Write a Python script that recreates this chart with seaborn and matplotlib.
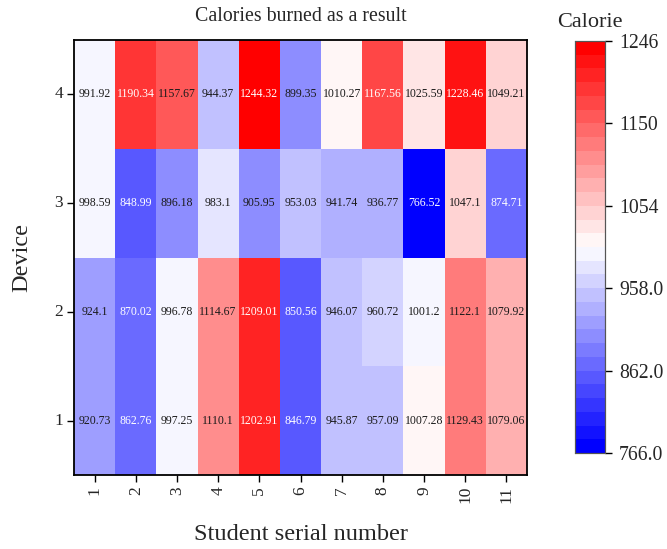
import numpy as np
import pandas as pd
import matplotlib
matplotlib.use("Agg")
import matplotlib.pyplot as plt
import seaborn as sns

# Calories burned per device (rows) and student (columns)
students = [1, 2, 3, 4, 5, 6, 7, 8, 9, 10, 11]
devices = [4, 3, 2, 1]
device4 = [991.92, 1190.34, 1157.67, 944.37, 1244.32, 899.35, 1010.27, 1167.56, 1025.59, 1228.46, 1049.21]
device3 = [998.59, 848.99, 896.18, 983.1, 905.95, 953.03, 941.74, 936.77, 766.52, 1047.1, 874.71]
device2 = [924.1, 870.02, 996.78, 1114.67, 1209.01, 850.56, 946.07, 960.72, 1001.2, 1122.1, 1079.92]
device1 = [920.73, 862.76, 997.25, 1110.1, 1202.91, 846.79, 945.87, 957.09, 1007.28, 1129.43, 1079.06]

cbar_ticks = [766.0, 862.0, 958.0, 1054.0, 1150.0, 1246.0]
cbar_ticklabels = ["766.0", "862.0", "958.0", "1054", "1150", "1246"]
vmin, vmax = 766.0, 1246.0

sns.set_theme(style="white")
plt.rcParams["font.family"] = ["Liberation Serif", "DejaVu Serif"]

df = pd.DataFrame([device4, device3, device2, device1], index=devices, columns=students)

cmap = matplotlib.colormaps["bwr"].resampled(30)

fig = plt.figure(figsize=(6.67, 5.49), dpi=100)
ax = fig.add_axes([74 / 667, 1 - 475 / 549, (527 - 74) / 667, (475 - 40) / 549])
cax = fig.add_axes([575 / 667, 1 - 453 / 549, 30 / 667, (453 - 41) / 549])

sns.heatmap(df, ax=ax, cbar_ax=cax, cmap=cmap, vmin=vmin, vmax=vmax,
            annot=False, linewidths=0, square=False)

# value labels: light text on the strongest colours, dark text elsewhere
for i, dev in enumerate(devices):
    for j, st in enumerate(students):
        v = df.loc[dev, st]
        color = "white" if (v > 1160 or v < 885) else "#1a1a1a"
        ax.text(j + 0.5, i + 0.5, f"{v:g}", ha="center", va="center",
                fontsize=8.5, color=color)

for s in ax.spines.values():
    s.set_visible(True)
    s.set_color("black")
    s.set_linewidth(1.3)

ax.tick_params(axis="both", which="both", length=5, width=1, color="black",
               bottom=True, left=True, labelsize=12.5, pad=3)
ax.set_xticklabels([str(s) for s in students], rotation=90, fontsize=12.5)
ax.set_yticklabels([str(d) for d in devices], rotation=0, fontsize=12.5)

ax.set_title("Calories burned as a result", fontsize=14.3, pad=14)
ax.set_xlabel("Student serial number", fontsize=17.5, labelpad=15)
ax.set_ylabel("Device", fontsize=17.5, labelpad=16)

cax.set_yticks(cbar_ticks)
cax.set_yticklabels(cbar_ticklabels, fontsize=14.2)
cax.tick_params(axis="y", length=5, width=1, color="black", right=True, pad=5)
for s in cax.spines.values():
    s.set_visible(True)
    s.set_color("#555555")
    s.set_linewidth(0.8)
cax.set_title("Calorie", fontsize=16, pad=10)

fig.savefig("out.png", dpi=100)
